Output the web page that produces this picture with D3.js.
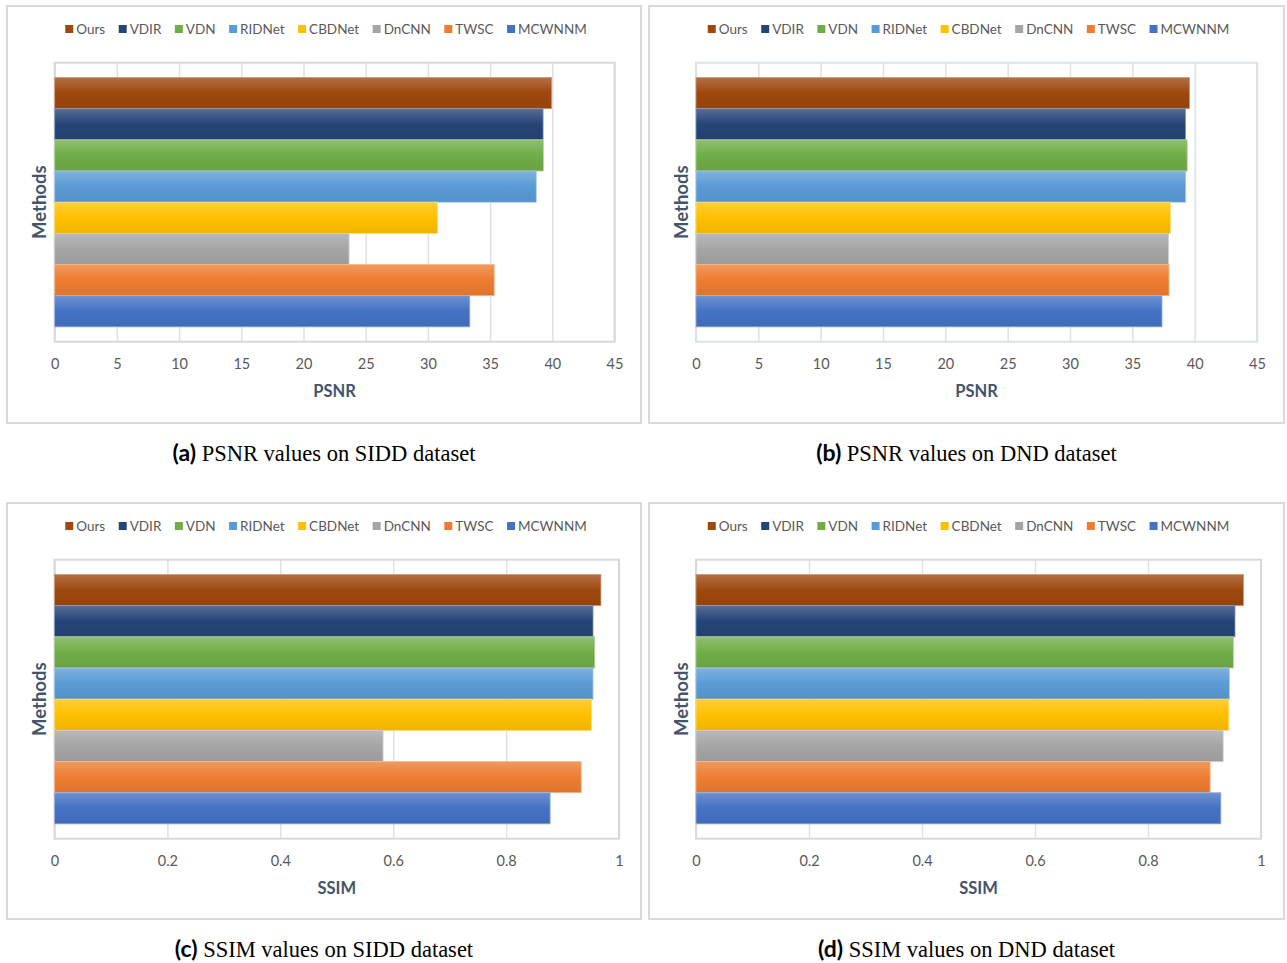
<!DOCTYPE html>
<html>
<head>
<meta charset="utf-8">
<script src="https://cdn.jsdelivr.net/npm/d3@7"></script>
<style>
	body { margin: 0; background: #fff; }
	text { font-family: Lato, "Open Sans", sans-serif; }
</style>
</head>
<body>
<svg id="chart"></svg>
<script>
const methods = ["Ours", "VDIR", "VDN", "RIDNet", "CBDNet", "DnCNN", "TWSC", "MCWNNM"];
const bar_colors = ["#9e480e", "#264478", "#70ad47", "#5b9bd5", "#ffc000", "#a5a5a5", "#ed7d31", "#4472c4"];

const psnr_sidd = [39.95, 39.26, 39.28, 38.71, 30.78, 23.66, 35.33, 33.37];
const psnr_dnd = [39.59, 39.27, 39.40, 39.28, 38.06, 37.90, 37.94, 37.38];
const ssim_sidd = [0.968, 0.954, 0.957, 0.954, 0.951, 0.582, 0.933, 0.878];
const ssim_dnd = [0.969, 0.954, 0.951, 0.944, 0.943, 0.933, 0.910, 0.929];

const psnr_ticks = [0, 5, 10, 15, 20, 25, 30, 35, 40, 45];
const ssim_ticks = [0, 0.2, 0.4, 0.6, 0.8, 1];

const panel_letters = ["(a)", "(b)", "(c)", "(d)"];
const panel_captions = ["PSNR values on SIDD dataset", "PSNR values on DND dataset",
	"SSIM values on SIDD dataset", "SSIM values on DND dataset"];
const axis_titles = ["PSNR", "PSNR", "SSIM", "SSIM"];

const width = 1287;
const height = 963;
const label_color = "#595959";
const title_color = "#44546a";

// layout of each panel: outer box and plot area (pixels)
const panels = [
	{ values: psnr_sidd, ticks: psnr_ticks, max: 45, box: [7, 6, 634, 417], plot: [54.7, 62.7, 614.5, 341.7] },
	{ values: psnr_dnd, ticks: psnr_ticks, max: 45, box: [649, 6, 635, 417], plot: [696, 62.7, 1257, 341.7] },
	{ values: ssim_sidd, ticks: ssim_ticks, max: 1, box: [7, 503, 634, 416], plot: [54.5, 559.7, 619, 838.7] },
	{ values: ssim_dnd, ticks: ssim_ticks, max: 1, box: [649, 503, 635, 416], plot: [696, 559.7, 1261, 838.7] }
];

const svg = d3.select("#chart")
	.attr("width", width)
	.attr("height", height);

svg.append("rect")
	.attr("width", width)
	.attr("height", height)
	.style("fill", "#fff");

// bar gradients, lighter on top like the office chart style
const defs = svg.append("defs");
bar_colors.forEach((c, i) => {
	let grad = defs.append("linearGradient")
		.attr("id", "grad-" + i)
		.attr("x1", 0).attr("y1", 0)
		.attr("x2", 0).attr("y2", 1);
	grad.append("stop").attr("offset", "0%").attr("stop-color", d3.interpolateRgb(c, "#fff")(0.22));
	grad.append("stop").attr("offset", "50%").attr("stop-color", c);
	grad.append("stop").attr("offset", "100%").attr("stop-color", d3.color(c).darker(0.18));
});

panels.forEach((p, index) => {
	let [bx, by, bw, bh] = p.box;
	let [left, top, right, bottom] = p.plot;
	let g = svg.append("g");

	g.append("rect")
		.attr("x", bx).attr("y", by)
		.attr("width", bw).attr("height", bh)
		.style("fill", "#fff")
		.style("stroke", "#d9d9d9")
		.style("stroke-width", 2);

	let x = d3.scaleLinear()
		.domain([0, p.max])
		.range([left, right]);

	let y = d3.scaleBand()
		.domain(methods)
		.range([top, bottom])
		.paddingInner(0)
		.paddingOuter(0.475);

	// gridlines
	g.append("g")
		.attr("transform", "translate(0," + bottom + ")")
		.call(d3.axisBottom(x).tickValues(p.ticks).tickSize(-(bottom - top)).tickFormat(""))
		.call(a => a.select(".domain").remove())
		.call(a => a.selectAll("line").style("stroke", "#dde1e8").style("stroke-width", 1.5));

	// plot frame
	g.append("rect")
		.attr("x", left).attr("y", top)
		.attr("width", right - left).attr("height", bottom - top)
		.style("fill", "none")
		.style("stroke", index == 1 ? "#dce2ea" : "#d9d9d9")
		.style("stroke-width", 2);

	// bars
	g.selectAll(".bar")
		.data(p.values)
		.join("rect")
		.attr("class", "bar")
		.attr("x", x(0))
		.attr("y", (d, i) => y(methods[i]))
		.attr("width", d => x(d) - x(0))
		.attr("height", y.bandwidth())
		.style("fill", (d, i) => "url(#grad-" + i + ")")
		.style("stroke", (d, i) => d3.interpolateRgb(bar_colors[i], "#fff")(0.45))
		.style("stroke-width", 0.8);

	// tick labels
	g.append("g")
		.attr("transform", "translate(0," + bottom + ")")
		.call(d3.axisBottom(x).tickValues(p.ticks).tickSize(0).tickPadding(17).tickFormat(d3.format("")))
		.call(a => a.select(".domain").remove())
		.call(a => a.selectAll("text")
			.style("font-family", "Lato, sans-serif")
			.style("font-size", "14.5px")
			.style("fill", label_color));

	// axis titles
	g.append("text")
		.attr("x", (left + right) / 2)
		.attr("y", bottom + 55)
		.attr("text-anchor", "middle")
		.style("font-size", "16.5px")
		.style("font-weight", "bold")
		.style("fill", title_color)
		.text(axis_titles[index]);

	g.append("text")
		.attr("transform", "translate(" + (bx + 33) + "," + ((top + bottom) / 2) + ") rotate(-90)")
		.attr("text-anchor", "middle")
		.attr("dy", "0.35em")
		.style("font-size", "18.5px")
		.style("font-weight", "bold")
		.style("fill", title_color)
		.text("Methods");

	// legend
	let legend = g.append("g");
	let items = legend.selectAll("g")
		.data(methods)
		.join("g");
	items.append("rect")
		.attr("width", 8).attr("height", 8)
		.attr("y", -4)
		.style("fill", (d, i) => bar_colors[i]);
	items.append("text")
		.attr("x", 11)
		.attr("dy", "0.35em")
		.style("font-size", "13.5px")
		.style("fill", label_color)
		.text(d => d);
	let gap = 13.5;
	let offset = 0;
	items.each(function () {
		let w = d3.select(this).select("text").node().getComputedTextLength();
		d3.select(this).attr("transform", "translate(" + offset + ",0)");
		offset += 11 + w + gap;
	});
	offset -= gap;
	legend.attr("transform", "translate(" + (bx + bw / 2 + 2 - offset / 2) + "," + (by + 23) + ")");

	// caption below the panel
	let cap = svg.append("text")
		.attr("x", bx + bw / 2)
		.attr("y", by + bh + 38)
		.attr("text-anchor", "middle")
		.style("fill", "#000");
	cap.append("tspan")
		.style("font-family", "Lato, sans-serif")
		.style("font-weight", "bold")
		.style("font-size", "23px")
		.text(panel_letters[index]);
	cap.append("tspan")
		.style("font-family", "'Liberation Serif', 'Times New Roman', serif")
		.style("font-size", "22.5px")
		.text(" " + panel_captions[index]);
});
</script>
</body>
</html>
